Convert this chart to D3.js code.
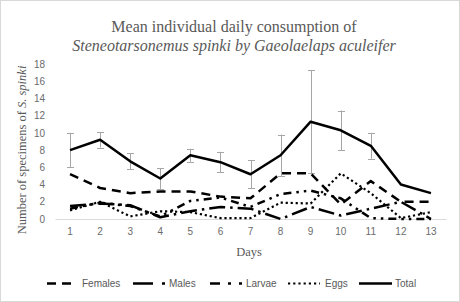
<!DOCTYPE html>
<html><head><meta charset="utf-8">
<script src="https://cdn.jsdelivr.net/npm/d3@7"></script>
<style>
html,body{margin:0;padding:0;background:#fff;}
svg{display:block;}
</style></head>
<body>
<script>
const days = ["1","2","3","4","5","6","7","8","9","10","11","12","13"];
const females = [5.2, 3.6, 3.0, 3.2, 3.2, 2.6, 2.4, 5.3, 5.3, 1.7, 4.4, 2.0, 2.0];
const males   = [1.5, 1.8, 1.6, 0.2, 0.9, 1.4, 1.2, 0.0, 1.4, 0.4, 1.2, 2.0, 0.0];
const larvae  = [1.2, 1.9, 1.5, 0.3, 2.1, 2.5, 1.4, 2.9, 3.3, 2.4, 0.1, 0.0, 0.0];
const eggs    = [1.0, 2.0, 0.3, 0.9, 0.8, 0.1, 0.1, 1.9, 1.8, 5.3, 3.0, 0.1, 0.8];
const total   = [8.0, 9.2, 6.7, 4.7, 7.4, 6.6, 5.2, 7.4, 11.3, 10.3, 8.5, 4.0, 3.0];
const totalErr= [2.0, 0.9, 0.95, 1.2, 0.75, 1.2, 1.6, 2.4, 6.0, 2.3, 1.5, 0, 0];
const yTicks  = [0, 2, 4, 6, 8, 10, 12, 14, 16, 18];
const seriesNames = ["Females", "Males", "Larvae", "Eggs", "Total"];
const titleLine1 = "Mean individual daily consumption of";
const titleLine2 = "Steneotarsonemus spinki by Gaeolaelaps aculeifer";

const W = 460, H = 302;
const svg = d3.select("body").append("svg").attr("width", W).attr("height", H);
svg.append("rect").attr("x",0.5).attr("y",0.5).attr("width",W-1).attr("height",H-1)
  .attr("fill","#fff").attr("stroke","#d9d9d9");

const x = d3.scaleBand().domain(days).range([55, 446]).padding(0);
const y = d3.scaleLinear().domain([0, 18]).range([219, 64]);
const cx = d => x(d) + x.bandwidth()/2;

const grey = "#595959";
// title
svg.append("text").attr("x", 234).attr("y", 32).attr("text-anchor","middle")
  .attr("font-family","Liberation Serif").attr("font-size",16).attr("fill",grey).text(titleLine1);
svg.append("text").attr("x", 234).attr("y", 51).attr("text-anchor","middle")
  .attr("font-family","Liberation Serif").attr("font-size",16).attr("font-style","italic").attr("fill",grey).text(titleLine2);

// y axis ticks
const yAxis = d3.axisLeft(y).tickValues(yTicks).tickSize(0).tickPadding(0);
const gy = svg.append("g").attr("transform","translate(45,0)").call(yAxis);
gy.select(".domain").remove();
gy.selectAll("text").attr("font-family","Liberation Sans").attr("font-size",10).attr("fill","#6b6b6b");

// x axis
const xAxis = d3.axisBottom(x).tickSize(0).tickPadding(9);
const gx = svg.append("g").attr("transform","translate(0,219)").call(xAxis);
gx.select(".domain").attr("stroke","#d9d9d9").attr("stroke-width",1);
gx.selectAll("text").attr("font-family","Liberation Sans").attr("font-size",10).attr("fill","#6b6b6b");

// axis titles
const yl = svg.append("text").attr("transform","translate(26,150) rotate(-90)").attr("text-anchor","middle")
  .attr("font-family","Liberation Serif").attr("font-size",12.5).attr("fill",grey);
yl.append("tspan").text("Number of specimens of ");
yl.append("tspan").attr("font-style","italic").text("S. spinki");
svg.append("text").attr("x",249).attr("y",256).attr("text-anchor","middle")
  .attr("font-family","Liberation Serif").attr("font-size",12.5).attr("fill",grey).text("Days");

const styles = {
  Females: {dash:"9,6", w:2.5, legendDash:"9,6"},
  Males:   {dash:"16,5,2.5,5", w:2.5, legendDash:"20,9,3,10"},
  Larvae:  {dash:"8,5,2.5,5,2.5,5", w:2.5, legendDash:"10,8,3,8,3,10"},
  Eggs:    {dash:"2.2,2.8", w:2.2, legendDash:"2.2,3"},
  Total:   {dash:null, w:2.5, legendDash:null}
};
const dataMap = {Females: females, Males: males, Larvae: larvae, Eggs: eggs, Total: total};

// error bars
const eb = svg.append("g").attr("stroke","#a6a6a6").attr("stroke-width",1);
days.forEach((d,i) => {
  if (totalErr[i] <= 0) return;
  const xc = Math.round(cx(d)) + 0.5;
  eb.append("line").attr("x1",xc).attr("x2",xc).attr("y1",y(total[i]-totalErr[i])).attr("y2",y(total[i]+totalErr[i]));
  [total[i]-totalErr[i], total[i]+totalErr[i]].forEach(v => {
    eb.append("line").attr("x1",xc-3.5).attr("x2",xc+3.5).attr("y1",Math.round(y(v))+0.5).attr("y2",Math.round(y(v))+0.5);
  });
});

const line = d3.line().x((v,i) => cx(days[i])).y(v => y(v));
seriesNames.forEach(n => {
  const s = styles[n];
  svg.append("path").datum(dataMap[n]).attr("d", line).attr("fill","none")
    .attr("stroke","#000").attr("stroke-width", s.w).attr("stroke-linecap","butt")
    .attr("stroke-linejoin","round").attr("stroke-dasharray", s.dash);
});

// legend
const legendItems = [
  {n:"Females", x0:47, x1:77, tx:82},
  {n:"Males", x0:133, x1:165, tx:169},
  {n:"Larvae", x0:210, x1:242, tx:246},
  {n:"Eggs", x0:288, x1:320, tx:325},
  {n:"Total", x0:359, x1:392, tx:395}
];
const lg = svg.append("g");
legendItems.forEach(it => {
  const s = styles[it.n];
  lg.append("line").attr("x1",it.x0).attr("x2",it.x1).attr("y1",283.5).attr("y2",283.5)
    .attr("stroke","#000").attr("stroke-width",s.w).attr("stroke-dasharray",s.legendDash);
  lg.append("text").attr("x",it.tx).attr("y",287).attr("font-family","Liberation Sans")
    .attr("font-size",10).attr("fill",grey).text(it.n);
});
</script>
</body></html>
